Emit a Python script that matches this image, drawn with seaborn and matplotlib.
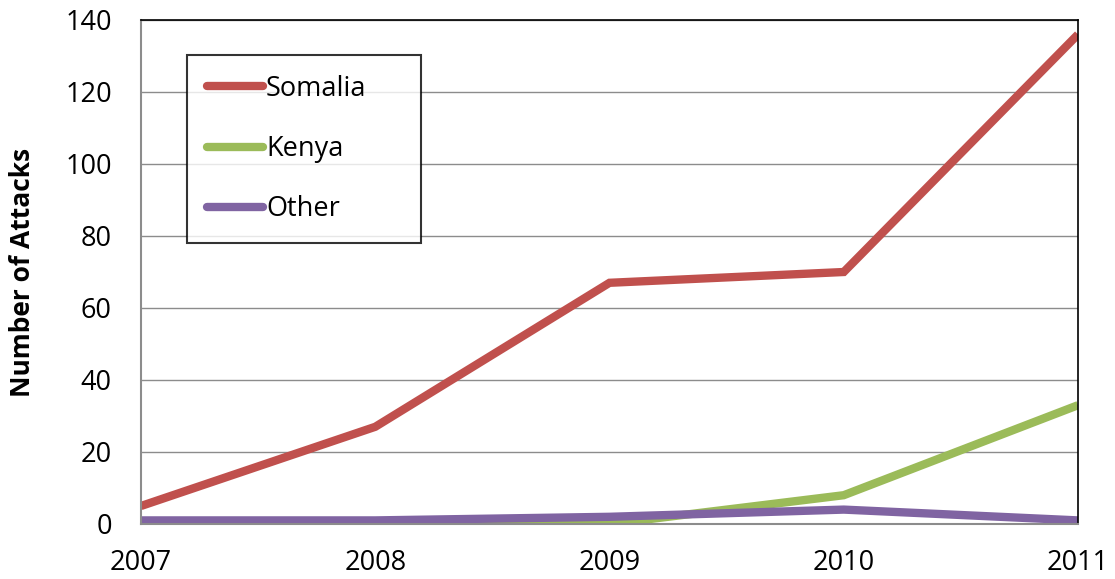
import numpy as np
import pandas as pd
import matplotlib
matplotlib.use("Agg")
import matplotlib.pyplot as plt
import seaborn as sns

# values
years = [2007, 2008, 2009, 2010, 2011]
somalia = [5, 27, 67, 70, 136]
kenya = [0, 0, 0, 8, 33]
other = [1, 1, 2, 4, 1]
series_names = ["Somalia", "Kenya", "Other"]
colors = ["#C0504D", "#9BBB59", "#8064A2"]

df = pd.DataFrame({"Year": years, "Somalia": somalia, "Kenya": kenya, "Other": other})
long = df.melt(id_vars="Year", var_name="Country", value_name="Attacks")

sns.set_style("white")
plt.rcParams["font.family"] = ["Open Sans", "DejaVu Sans"]
plt.rcParams["text.color"] = "black"
plt.rcParams["axes.labelcolor"] = "black"

fig = plt.figure(figsize=(11.15, 5.79), dpi=100)
ax = fig.add_axes([141 / 1115, 1 - 524 / 579, (1078 - 141) / 1115, (524 - 20) / 579])

sns.lineplot(data=long, x="Year", y="Attacks", hue="Country", hue_order=series_names,
             palette=colors, linewidth=6, ax=ax, legend=False,
             solid_capstyle="butt", solid_joinstyle="miter")

ax.set_xlim(2007, 2011)
ax.set_ylim(0, 140)
ax.set_xticks(years)
ax.set_yticks(np.arange(0, 141, 20))
ax.yaxis.grid(True, color="#8c8c8c", linewidth=1)
ax.set_axisbelow(True)

for side in ["top", "right"]:
    ax.spines[side].set_color("black")
    ax.spines[side].set_linewidth(1.2)
for side in ["left", "bottom"]:
    ax.spines[side].set_color("#8c8c8c")
    ax.spines[side].set_linewidth(1.5)

ax.tick_params(axis="both", which="both", direction="out", length=7, width=1.2,
               color="#8c8c8c", labelsize=19.5, labelcolor="black")
ax.tick_params(axis="x", pad=11)
ax.tick_params(axis="y", pad=14)

ax.set_xlabel("")
ax.set_ylabel("Number of Attacks", fontsize=19, fontweight="bold")
ax.yaxis.set_label_coords(-0.112, 0.5)

# legend drawn from the same series
handles = [plt.Line2D([], [], color=c, linewidth=6, solid_capstyle="round") for c in colors]
leg = ax.legend(handles, series_names, loc="upper left",
                bbox_to_anchor=(46 / 937, 1 - 35 / 504 - 0.01, 234 / 937, 0.01), mode="expand",
                frameon=True, fancybox=False, fontsize=19.5, handlelength=2.1, handletextpad=0.1,
                labelspacing=1.2, borderpad=0.72, borderaxespad=0)
leg.get_frame().set_edgecolor("black")
leg.get_frame().set_linewidth(1.5)

fig.savefig("out.png", dpi=100)
